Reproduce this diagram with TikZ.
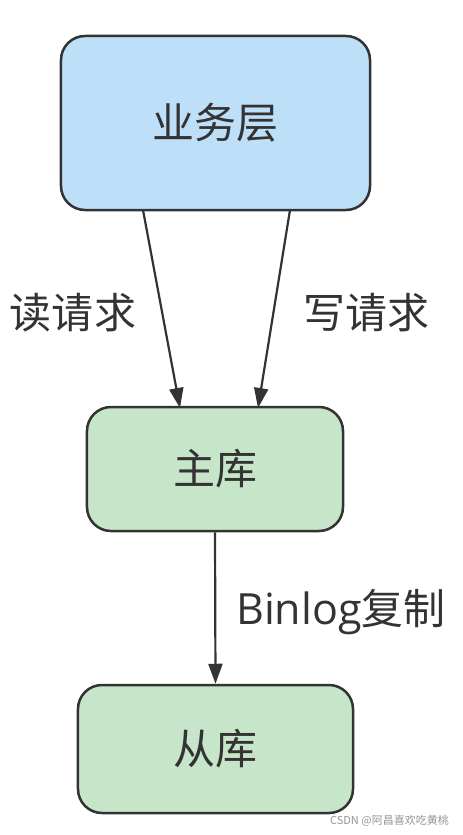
\documentclass[tikz,border=0pt]{standalone}
\usepackage{fontspec}
\setmainfont{Noto Sans CJK SC}
\newfontfamily\latinfont{Open Sans}
\usetikzlibrary{arrows.meta}
\definecolor{bluefill}{RGB}{189,223,248}
\definecolor{greenfill}{RGB}{198,229,201}
\definecolor{edge}{RGB}{51,51,51}
\definecolor{wm}{RGB}{150,150,150}
\begin{document}
\begin{tikzpicture}[x=1bp,y=-1bp,
  box/.style={draw=edge,line width=2.5bp,rounded corners=24bp,text=edge,font=\fontsize{42bp}{46bp}\selectfont},
  lbl/.style={text=edge,font=\fontsize{42bp}{46bp}\selectfont,inner sep=0},
  conn/.style={draw=edge,line width=2.2bp,-{Triangle[length=20bp,width=14bp]}}]
\useasboundingbox (0,0) rectangle (463,835);
\fill[white] (0,0) rectangle (463,835);
\node[box,fill=bluefill,minimum width=309bp,minimum height=174bp] (biz) at (215.5,123) {业务层};
\node[box,fill=greenfill,minimum width=256bp,minimum height=124bp] (master) at (215,469) {主库};
\node[box,fill=greenfill,minimum width=275bp,minimum height=128bp] (slave) at (215.5,749) {从库};
\coordinate (r1) at (143,210);
\coordinate (r2) at (180,408);
\coordinate (w1) at (290,210);
\coordinate (w2) at (258,408);
\draw[conn] (r1) -- (r2);
\draw[conn] (w1) -- (w2);
\draw[conn] (master.south) -- (slave.north);
\node[lbl] (rd) at (73,313) {读请求};
\node[lbl] (wr) at (366,313) {写请求};
\node[lbl,anchor=west] (bl) at (236,612) {{\latinfont\fontsize{43bp}{46bp}\selectfont Binlog}复制};
\node[text=wm,font=\fontsize{11bp}{13bp}\selectfont,inner sep=0,anchor=east] (wmk) at (449,821) {CSDN @阿昌喜欢吃黄桃};
\end{tikzpicture}
\end{document}
